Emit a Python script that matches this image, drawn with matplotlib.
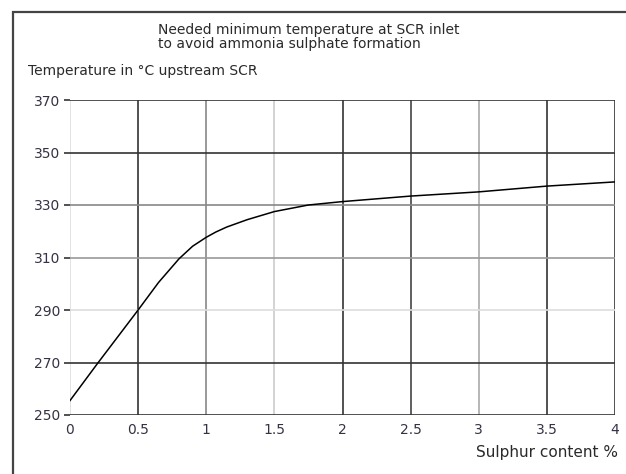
import numpy as np
import matplotlib.pyplot as plt
from matplotlib.patches import Rectangle

plt.rcParams['font.family'] = ['DejaVu Sans']

# curve
sulphur = [0, 0.2, 0.5, 0.65, 0.8, 0.9, 1.0, 1.07, 1.15, 1.3, 1.5, 1.75, 2.0, 2.5, 3.0, 3.5, 4.0]
temp = [255.5, 269.5, 290, 300.5, 309.5, 314.3, 317.7, 319.7, 321.6, 324.4, 327.5, 330, 331.3, 333.4, 335, 337.2, 338.8]

x_ticks = [0, 0.5, 1, 1.5, 2, 2.5, 3, 3.5, 4]
x_labels = ['0', '0.5', '1', '1.5', '2', '2.5', '3', '3.5', '4']
y_ticks = [250, 270, 290, 310, 330, 350, 370]

title = "Needed minimum temperature at SCR inlet\nto avoid ammonia sulphate formation"
ylab = "Temperature in °C upstream SCR"
xlab = "Sulphur content %"

# grid shades as they look in the scan
x_shades = ['#dddddd', '#333333', '#888888', '#cccccc', '#333333', '#444444', '#aaaaaa', '#333333', '#333333']
y_shades = ['#333333', '#333333', '#dddddd', '#999999', '#888888', '#333333', '#333333']

fig = plt.figure(figsize=(6.26, 4.74), dpi=100)
fig.patches.append(Rectangle((13 / 626, -0.05), 1.1, 1 - 12 / 474 + 0.05,
                             transform=fig.transFigure, fill=False,
                             edgecolor='#444444', linewidth=1.6))

ax = fig.add_axes([70 / 626, 1 - 415 / 474, 545 / 626, 315 / 474])
for xv, c in zip(x_ticks, x_shades):
    ax.axvline(xv, color=c, linewidth=1.2, zorder=1)
for yv, c in zip(y_ticks, y_shades):
    ax.axhline(yv, color=c, linewidth=1.2, zorder=1)

ax.plot(sulphur, temp, color='black', linewidth=1.1, zorder=3)

ax.set_xlim(0, 4)
ax.set_ylim(250, 370)
ax.set_xticks(x_ticks, x_labels)
ax.set_yticks(y_ticks)
for s in ax.spines.values():
    s.set_visible(False)
ax.tick_params(axis='x', length=0, pad=6, labelsize=10, labelcolor='#333344')
ax.tick_params(axis='y', length=4, width=1.2, color='#333333', pad=3,
               labelsize=10, labelcolor='#333344')

fig.text(158 / 626, 1 - 23 / 474, title, fontsize=10, color='#2a2a2a',
         ha='left', va='top', linespacing=1.0)
fig.text(28 / 626, 1 - 71 / 474, ylab, fontsize=10, color='#2a2a2a',
         ha='left', va='center')
fig.text(618 / 626, 1 - 453 / 474, xlab, fontsize=11, color='#2a2a2a',
         ha='right', va='center')

fig.savefig('out.png', dpi=100)
